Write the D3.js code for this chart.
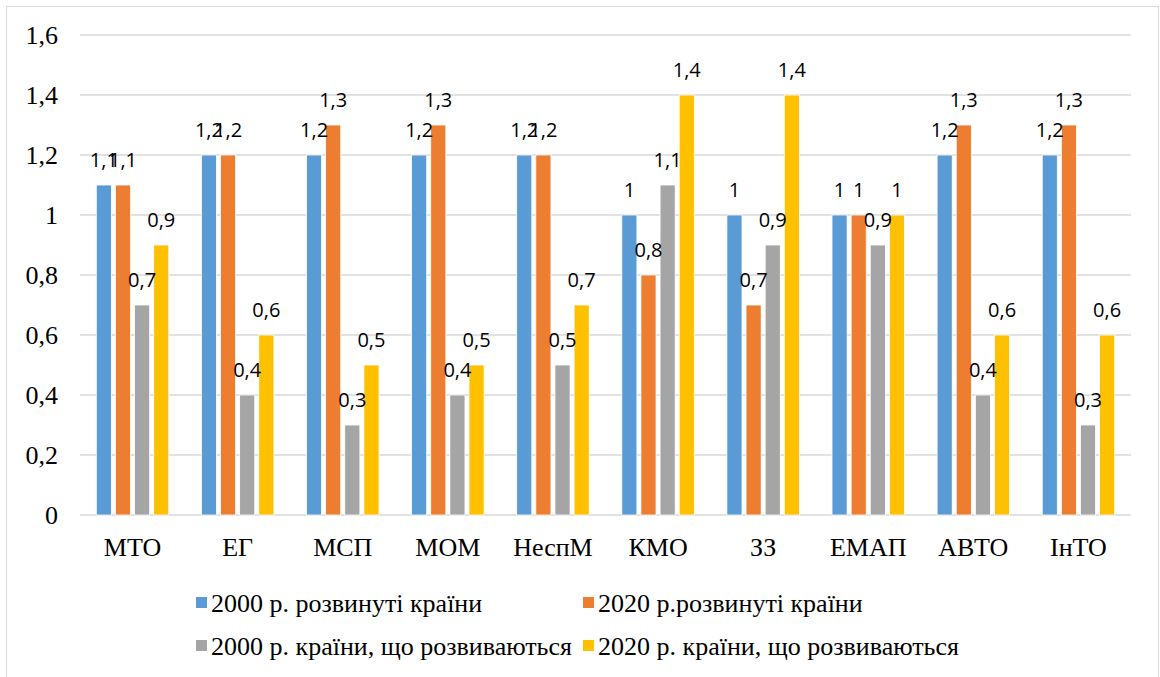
<!DOCTYPE html>
<html>
<head>
<meta charset="utf-8">
<title>chart</title>
<style>
    html, body { margin: 0; background: #fff; }
    svg text { fill: #000; }
</style>
</head>
<body>
<svg id="chart" width="1160" height="677"></svg>
<script src="https://cdn.jsdelivr.net/npm/d3@7"></script>
<script>
    "use strict";

    const categories = ["МТО", "ЕГ", "МСП", "МОМ", "НеспМ", "КМО", "ЗЗ", "ЕМАП", "АВТО", "ІнТО"];
    const seriesNames = [
        "2000 р. розвинуті країни",
        "2020 р.розвинуті країни",
        "2000 р. країни, що розвиваються",
        "2020 р. країни, що розвиваються"
    ];
    const developed2000 = [1.1, 1.2, 1.2, 1.2, 1.2, 1, 1, 1, 1.2, 1.2];
    const developed2020 = [1.1, 1.2, 1.3, 1.3, 1.2, 0.8, 0.7, 1, 1.3, 1.3];
    const developing2000 = [0.7, 0.4, 0.3, 0.4, 0.5, 1.1, 0.9, 0.9, 0.4, 0.3];
    const developing2020 = [0.9, 0.6, 0.5, 0.5, 0.7, 1.4, 1.4, 1, 0.6, 0.6];
    const yTicks = [0, 0.2, 0.4, 0.6, 0.8, 1, 1.2, 1.4, 1.6];

    const seriesValues = [developed2000, developed2020, developing2000, developing2020];
    const colors = ["#5B9BD5", "#ED7D31", "#A5A5A5", "#FFC000"];

    const serif = '"Liberation Serif"';
    const sans = '"Open Sans"';

    const svg = d3.select("#chart");
    const fmt = v => String(v).replace(".", ",");

    // outer frame
    svg.append("rect")
        .attr("x", 6.5).attr("y", 6.5)
        .attr("width", 1152).attr("height", 680)
        .attr("fill", "none")
        .attr("stroke", "#d9d9d9")
        .attr("stroke-width", 1);

    const plotLeft = 80, plotRight = 1131, plotTop = 35, plotBottom = 515;

    const y = d3.scaleLinear().domain([0, 1.6]).range([plotBottom, plotTop]);
    const x0 = d3.scaleBand().domain(categories).range([plotLeft, plotRight]);
    const groupWidth = 72.5;
    const x1 = d3.scaleBand().domain(d3.range(4)).range([0, groupWidth]).paddingInner(0.21);
    const groupOffset = (x0.bandwidth() - groupWidth) / 2;

    // gridlines
    svg.append("g")
        .selectAll("line")
        .data(yTicks)
        .join("line")
        .attr("x1", plotLeft).attr("x2", plotRight)
        .attr("y1", d => y(d)).attr("y2", d => y(d))
        .attr("stroke", "#d9d9d9")
        .attr("stroke-width", 1.5);

    // y tick labels
    svg.append("g")
        .selectAll("text")
        .data(yTicks)
        .join("text")
        .attr("x", 58)
        .attr("y", d => y(d))
        .attr("dy", "0.33em")
        .attr("text-anchor", "end")
        .style("font-family", serif)
        .style("font-size", "26px")
        .text(d => fmt(d));

    // bars
    const rows = [];
    categories.forEach((c, i) => {
        seriesValues.forEach((vals, s) => {
            rows.push({cat: c, s: s, v: vals[i]});
        });
    });

    const barX = d => x0(d.cat) + groupOffset + x1(d.s);

    svg.append("g")
        .selectAll("rect")
        .data(rows)
        .join("rect")
        .attr("x", barX)
        .attr("y", d => y(d.v))
        .attr("width", x1.bandwidth())
        .attr("height", d => y(0) - y(d.v))
        .attr("fill", d => colors[d.s])
        .attr("stroke", "#fff")
        .attr("stroke-width", 0.8);

    // value labels
    svg.append("g")
        .selectAll("text")
        .data(rows)
        .join("text")
        .attr("x", d => barX(d) + x1.bandwidth() / 2)
        .attr("y", d => y(d.v) - 25)
        .attr("dy", "0.35em")
        .attr("text-anchor", "middle")
        .style("font-family", sans)
        .style("font-size", "20px")
        .text(d => fmt(d.v));

    // category labels
    svg.append("g")
        .selectAll("text")
        .data(categories)
        .join("text")
        .attr("x", d => x0(d) + x0.bandwidth() / 2)
        .attr("y", 547)
        .attr("dy", "0.33em")
        .attr("text-anchor", "middle")
        .style("font-family", serif)
        .style("font-size", "26px")
        .text(d => d);

    // legend
    const legendPos = [
        {x: 196, y: 603}, {x: 583, y: 603},
        {x: 196, y: 646}, {x: 583, y: 646}
    ];
    const legend = svg.append("g")
        .selectAll("g")
        .data(seriesNames)
        .join("g")
        .attr("transform", (d, i) => `translate(${legendPos[i].x},${legendPos[i].y})`);

    legend.append("rect")
        .attr("x", 0).attr("y", -6)
        .attr("width", 11).attr("height", 11)
        .attr("fill", (d, i) => colors[i]);

    legend.append("text")
        .attr("x", 15)
        .attr("y", 0)
        .attr("dy", "0.33em")
        .style("font-family", serif)
        .style("font-size", "26px")
        .text(d => d);
</script>
</body>
</html>
